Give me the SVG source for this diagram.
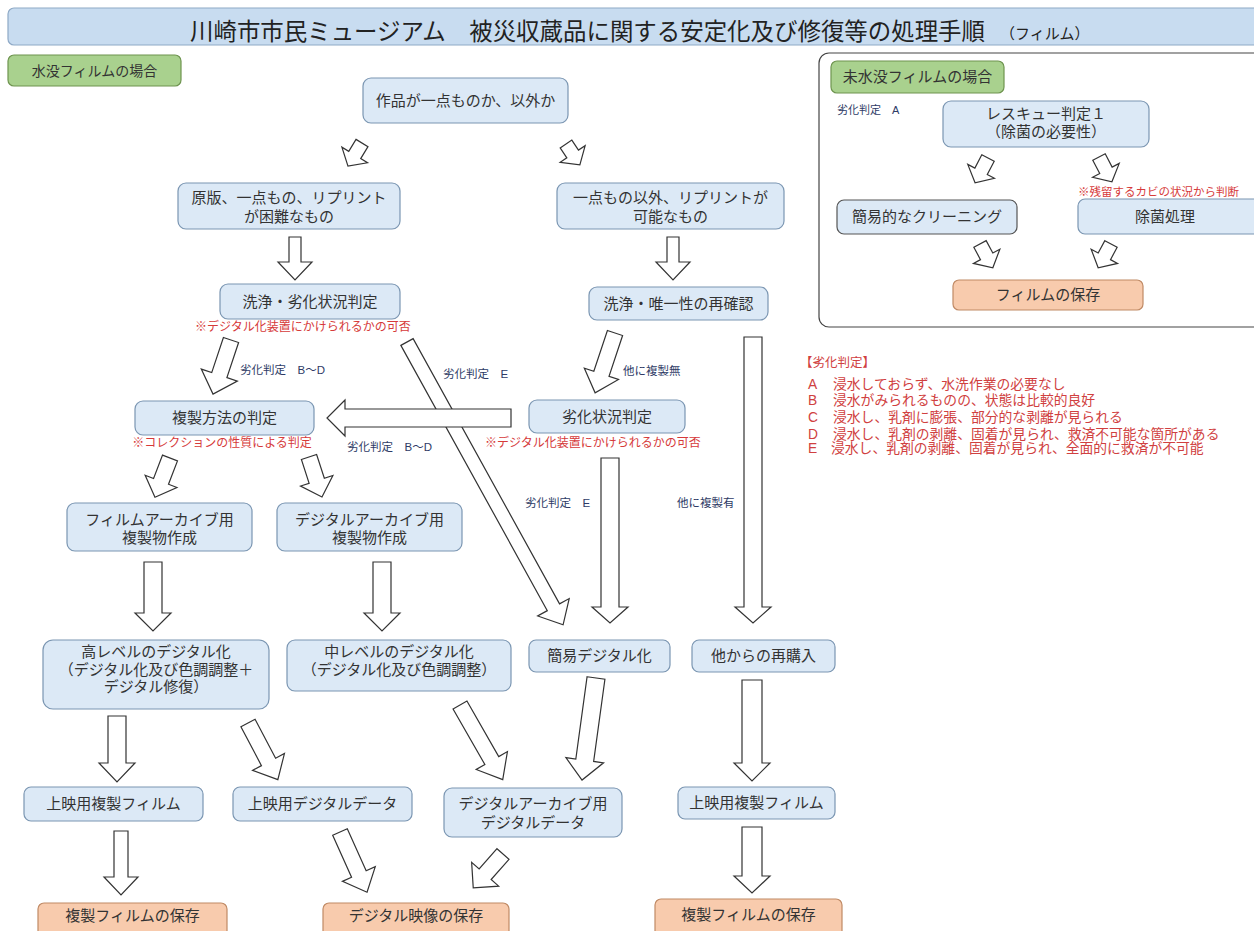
<svg xmlns="http://www.w3.org/2000/svg" width="1254" height="931" viewBox="0 0 1254 931">
<style>
text{font-family:"Liberation Sans","Noto Sans CJK JP",sans-serif;fill:#333}
.n{fill:#dce9f6;stroke:#7b96b2;stroke-width:1.2}
.o{fill:#f8cbad;stroke:#c08a65;stroke-width:1.2}
.g{fill:#a9d18e;stroke:#6e944f;stroke-width:1.2}
.t{font-size:15px;text-anchor:middle}
.r{font-size:12px;fill:#d63a3a}
.rm{font-size:12px;fill:#d63a3a;text-anchor:middle}
.l{font-size:11.5px;fill:#2e3b66}
.lg{font-size:13.8px;fill:#d04040}
.ar{fill:#fff;stroke:#333;stroke-width:1.2}
</style>
<rect x="0" y="0" width="1254" height="931" fill="#fff"/>

<g id="title">
<rect x="8" y="8" width="1262" height="37" rx="6" fill="#c8dcf0" stroke="#8ea9c6" stroke-width="1.2"/>
<text x="190" y="40" textLength="795" lengthAdjust="spacingAndGlyphs" style="font-size:24px;fill:#222">川崎市市民ミュージアム　被災収蔵品に関する安定化及び修復等の処理手順</text>
<text x="1000" y="39" style="font-size:15px;fill:#222">（フィルム）</text>
</g>

<g id="label-submerged">
<rect class="g" x="8" y="55" width="173" height="31" rx="6"/>
<text class="t" x="94.5" y="76" style="font-size:14px">水没フィルムの場合</text>
</g>

<g id="n0"><rect class="n" x="363" y="78" width="205" height="45" rx="8"/><text class="t" x="465.5" y="106">作品が一点ものか、以外か</text></g>
<g id="n1"><rect class="n" x="178" y="183" width="222" height="46" rx="8"/><text class="t" x="289" y="203">原版、一点もの、リプリント</text><text class="t" x="289" y="222">が困難なもの</text></g>
<g id="n2"><rect class="n" x="557" y="183" width="227" height="46" rx="8"/><text class="t" x="670.5" y="203">一点もの以外、リプリントが</text><text class="t" x="670.5" y="222">可能なもの</text></g>
<g id="n3"><rect class="n" x="220" y="284" width="180" height="35" rx="8"/><text class="t" x="310" y="307">洗浄・劣化状況判定</text></g>
<g id="n4"><rect class="n" x="589" y="287" width="179" height="33" rx="8"/><text class="t" x="678.5" y="309">洗浄・唯一性の再確認</text></g>
<g id="n5"><rect class="n" x="135" y="401" width="179" height="34" rx="8"/><text class="t" x="224.5" y="423">複製方法の判定</text></g>
<g id="n6"><rect class="n" x="529" y="400" width="156" height="33" rx="8"/><text class="t" x="607" y="422">劣化状況判定</text></g>
<g id="n7"><rect class="n" x="67" y="503" width="185" height="48" rx="8"/><text class="t" x="159.5" y="525">フィルムアーカイブ用</text><text class="t" x="159.5" y="543">複製物作成</text></g>
<g id="n8"><rect class="n" x="277" y="503" width="185" height="48" rx="8"/><text class="t" x="369.5" y="525">デジタルアーカイブ用</text><text class="t" x="369.5" y="543">複製物作成</text></g>
<g id="n9"><rect class="n" x="43" y="640" width="226" height="69" rx="10"/><text class="t" x="156" y="657">高レベルのデジタル化</text><text class="t" x="156" y="675">（デジタル化及び色調調整＋</text><text class="t" x="156" y="692">デジタル修復）</text></g>
<g id="n10"><rect class="n" x="287" y="640" width="224" height="51" rx="8"/><text class="t" x="399" y="657">中レベルのデジタル化</text><text class="t" x="399" y="675">（デジタル化及び色調調整）</text></g>
<g id="n11"><rect class="n" x="529" y="640" width="141" height="32" rx="7"/><text class="t" x="599.5" y="661">簡易デジタル化</text></g>
<g id="n12"><rect class="n" x="692" y="640" width="143" height="32" rx="7"/><text class="t" x="763.5" y="661">他からの再購入</text></g>
<g id="n13"><rect class="n" x="24" y="787" width="179" height="34" rx="7"/><text class="t" x="113.5" y="809">上映用複製フィルム</text></g>
<g id="n14"><rect class="n" x="233" y="787" width="179" height="34" rx="7"/><text class="t" x="322.5" y="809">上映用デジタルデータ</text></g>
<g id="n15"><rect class="n" x="444" y="788" width="178" height="49" rx="8"/><text class="t" x="533" y="809">デジタルアーカイブ用</text><text class="t" x="533" y="828">デジタルデータ</text></g>
<g id="n16"><rect class="n" x="678" y="787" width="157" height="32" rx="7"/><text class="t" x="756.5" y="808">上映用複製フィルム</text></g>
<g id="n17"><rect class="o" x="38" y="903" width="189" height="36" rx="6"/><text class="t" x="132.5" y="921">複製フィルムの保存</text></g>
<g id="n18"><rect class="o" x="323" y="903" width="186" height="36" rx="6"/><text class="t" x="416" y="921">デジタル映像の保存</text></g>
<g id="n19"><rect class="o" x="655" y="899" width="187" height="38" rx="6"/><text class="t" x="748.5" y="920">複製フィルムの保存</text></g>

<g id="panel">
<rect x="819" y="53" width="450" height="274" rx="10" fill="none" stroke="#444" stroke-width="1.2"/>
</g>
<g id="label-unsubmerged"><rect class="g" x="831" y="61" width="173" height="32" rx="6"/><text class="t" x="917.5" y="82">未水没フィルムの場合</text></g>
<g id="r1"><rect class="n" x="943" y="101" width="206" height="46" rx="8"/><text class="t" x="1046" y="119">レスキュー判定１</text><text class="t" x="1046" y="137">（除菌の必要性）</text></g>
<g id="r2"><rect class="n" x="837" y="200" width="180" height="34" rx="7" style="stroke:#555"/><text class="t" x="927" y="222">簡易的なクリーニング</text></g>
<g id="r3"><rect class="n" x="1078" y="199" width="192" height="35" rx="7"/><text class="t" x="1165" y="222">除菌処理</text></g>
<g id="r4"><rect class="o" x="953" y="280" width="190" height="30" rx="6"/><text class="t" x="1048" y="300">フィルムの保存</text></g>

<g id="connectors">
<polygon class="ar" transform="translate(362,143) rotate(31.3)" points="-7,0 7,0 7,14 15,14 0,27 -15,14 -7,14"/>
<polygon class="ar" transform="translate(566,144) rotate(-33.7)" points="-7,0 7,0 7,12 15,12 0,25 -15,12 -7,12"/>
<polygon class="ar" points="289,237 301,237 301,262 312,262 295,280 278,262 289,262"/>
<polygon class="ar" points="667,237 679,237 679,262 690,262 673,280 656,262 667,262"/>
<polygon class="ar" transform="translate(231,340) rotate(18.4)" points="-8,0 8,0 8,37 19,37 0,57 -19,37 -8,37"/>
<polygon class="ar" transform="translate(407,342) rotate(-28.9)" points="-7,0 7,0 7,303 18,303 0,323 -18,303 -7,303"/>
<polygon class="ar" transform="translate(615,333) rotate(18.4)" points="-8,0 8,0 8,43 18,43 0,63 -18,43 -8,43"/>
<polygon class="ar" points="744,337 762,337 762,607 771,607 753,623 735,607 744,607"/>
<polygon class="ar" points="511,409 511,427 345,427 345,436 327,418 345,400 345,409"/>
<polygon class="ar" points="601,458 619,458 619,607 628,607 610,623 592,607 601,607"/>
<polygon class="ar" transform="translate(170,458) rotate(21)" points="-8,0 8,0 8,25 17,25 0,42 -17,25 -8,25"/>
<polygon class="ar" transform="translate(309,457) rotate(-18)" points="-8,0 8,0 8,25 17,25 0,42 -17,25 -8,25"/>
<polygon class="ar" points="144,562 162,562 162,613 171,613 153,631 135,613 144,613"/>
<polygon class="ar" points="373,562 391,562 391,613 400,613 382,631 364,613 373,613"/>
<polygon class="ar" points="108,716 126,716 126,763 135,763 117,782 99,763 108,763"/>
<polygon class="ar" transform="translate(248,723) rotate(-27.8)" points="-8,0 8,0 8,44 18,44 0,64 -18,44 -8,44"/>
<polygon class="ar" transform="translate(460,705) rotate(-29.8)" points="-8,0 8,0 8,64 18,64 0,86 -18,64 -8,64"/>
<polygon class="ar" transform="translate(596,678) rotate(7.8)" points="-9,0 9,0 9,83 19,83 0,103 -19,83 -9,83"/>
<polygon class="ar" points="742,680 762,680 762,763 770,763 752,781 734,763 742,763"/>
<polygon class="ar" points="114,831 128,831 128,877 138,877 121,895 104,877 114,877"/>
<polygon class="ar" transform="translate(340,832) rotate(-24.2)" points="-8,0 8,0 8,46 18,46 0,66 -18,46 -8,46"/>
<polygon class="ar" transform="translate(503,854) rotate(41.4)" points="-8,0 8,0 8,27 18,27 0,45 -18,27 -8,27"/>
<polygon class="ar" points="742,827 762,827 762,876 770,876 752,893 734,876 742,876"/>
<polygon class="ar" transform="translate(988,158) rotate(27.5)" points="-7,0 7,0 7,15 15,15 0,28 -15,15 -7,15"/>
<polygon class="ar" transform="translate(1099,157) rotate(-27.5)" points="-7,0 7,0 7,15 15,15 0,28 -15,15 -7,15"/>
<polygon class="ar" transform="translate(980,244) rotate(-28.4)" points="-7,0 7,0 7,14 15,14 0,27 -15,14 -7,14"/>
<polygon class="ar" transform="translate(1111,244) rotate(28.4)" points="-7,0 7,0 7,14 15,14 0,27 -15,14 -7,14"/>
</g>

<g id="labels">
<text class="rm" x="303" y="331">※デジタル化装置にかけられるかの可否</text>
<text class="rm" x="222" y="447">※コレクションの性質による判定</text>
<text class="rm" x="593" y="447">※デジタル化装置にかけられるかの可否</text>
<text class="r" x="1078" y="196" style="font-size:11.5px">※残留するカビの状況から判断</text>
<text class="l" x="240" y="374">劣化判定　B〜D</text>
<text class="l" x="443" y="378">劣化判定　E</text>
<text class="l" x="623" y="375">他に複製無</text>
<text class="l" x="347" y="451">劣化判定　B〜D</text>
<text class="l" x="525" y="507">劣化判定　E</text>
<text class="l" x="677" y="507">他に複製有</text>
<text class="l" x="837" y="114" style="font-size:11px">劣化判定　A</text>
</g>

<g id="legend">
<text class="lg" x="800" y="367" style="font-size:12.5px">【劣化判定】</text>
<text class="lg" x="808" y="389">A</text><text class="lg" x="833" y="389">浸水しておらず、水洗作業の必要なし</text>
<text class="lg" x="808" y="405">B</text><text class="lg" x="833" y="405">浸水がみられるものの、状態は比較的良好</text>
<text class="lg" x="808" y="422">C</text><text class="lg" x="833" y="422">浸水し、乳剤に膨張、部分的な剥離が見られる</text>
<text class="lg" x="808" y="439">D</text><text class="lg" x="833" y="439">浸水し、乳剤の剥離、固着が見られ、救済不可能な箇所がある</text>
<text class="lg" x="808" y="453">E</text><text class="lg" x="831" y="453">浸水し、乳剤の剥離、固着が見られ、全面的に救済が不可能</text>
</g>
</svg>
